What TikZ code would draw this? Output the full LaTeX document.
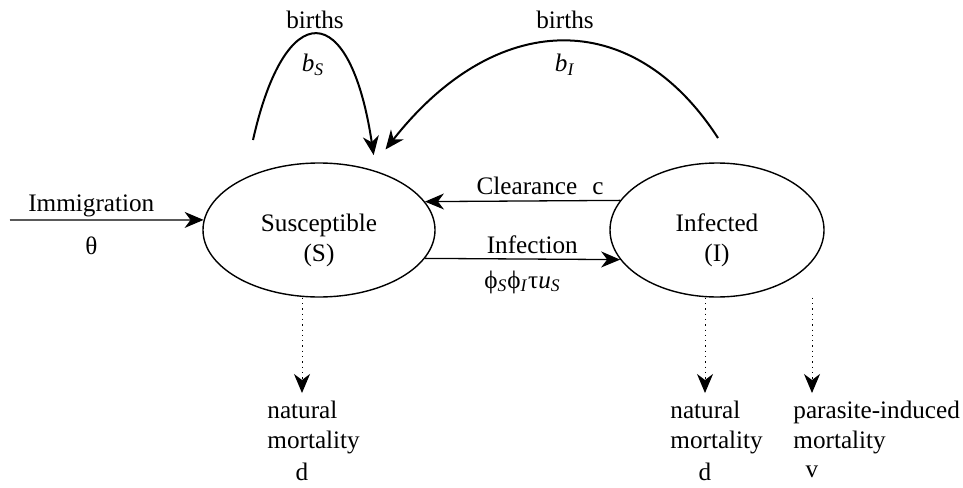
\documentclass[tikz,border=0pt]{standalone}
\usepackage{fontspec}
\setmainfont{Liberation Serif}
\usetikzlibrary{arrows.meta,positioning,shapes.geometric}
\tikzset{
    popnode/.style={ellipse, draw=black, line width=0.7pt, minimum width=116pt, minimum height=67pt, inner sep=0pt, align=center},
    pil/.style={-{Stealth[length=9.5pt,width=8pt,inset=3pt]}, line width=0.65pt},
    bogen/.style={pil, line width=1pt},
    dotpil/.style={pil, dotted, line width=0.5pt, shorten >=4pt},
    lbl/.style={inner sep=1pt},
    mort/.style={anchor=north west, align=left, inner sep=0pt}
}

\begin{document}
\begin{tikzpicture}[x=0.5pt, y=-0.5pt, font=\fontsize{12.6}{15}\selectfont]
    \useasboundingbox (0,0) rectangle (963,487);
    \node[popnode] (sus) at (319,230) {\rule{0pt}{19pt}Susceptible\\(S)};
    \node[popnode, minimum width=107pt] (inf) at (717,230) {\rule{0pt}{19pt}Infected\\(I)};
    \coordinate (imm) at (10,220);
    \draw[pil] (imm) -- (sus.175)
      node[lbl, pos=0.42, above=0pt] (immlbl) {Immigration}
      node[lbl, pos=0.42, below=7pt] (theta) {θ};
    \draw[pil] (inf.163) -- (sus.15)
      node[lbl, pos=0.41, above=1.75pt] (clr) {Clearance\hspace{0.6em}c};
    \draw[pil] (sus.-15) -- (inf.-163)
      node[lbl, pos=0.55, above=1.25pt] (infc) {Infection}
      node[lbl, pos=0.5, below=4.5pt] (rate) {ϕ\textsubscript{\textit{S}}ϕ\textsubscript{\textit{I}}τ\textit{u}\textsubscript{\textit{S}}};
    % births
    \coordinate (bS) at (253,140);
    \draw[bogen, shorten >=8pt] (bS) .. controls (285,-3) and (350,-3) .. (sus.46);
    \node (birS) at (315,20) {births};
    \node (bSlbl) at (313,65) {\textit{b}\textsubscript{\textit{S}}};
    \coordinate (bI) at (718,138);
    \draw[bogen, shorten >=12.5pt] (bI) .. controls (632,5) and (495,10) .. (sus.50);
    \node (birI) at (565,20) {births};
    \node (bIlbl) at (565,65) {\textit{b}\textsubscript{\textit{I}}};
    % mortality
    \node[mort] (natS) at (267,401) {natural\\mortality};
    \node (dS) at (302,472) {d};
    \draw[dotpil] (sus.south -| dS) -- (dS |- natS.north);
    \node[mort] (natI) at (670,401) {natural\\mortality};
    \node (dI) at (705,472) {d};
    \draw[dotpil] (inf.south -| dI) -- (dI |- natI.north);
    \node[mort] (parI) at (793,401) {parasite-induced\\mortality};
    \node (vI) at (812,472) {v};
    \draw[dotpil] (inf.south -| vI) -- (vI |- parI.north);
\end{tikzpicture}
\end{document}
